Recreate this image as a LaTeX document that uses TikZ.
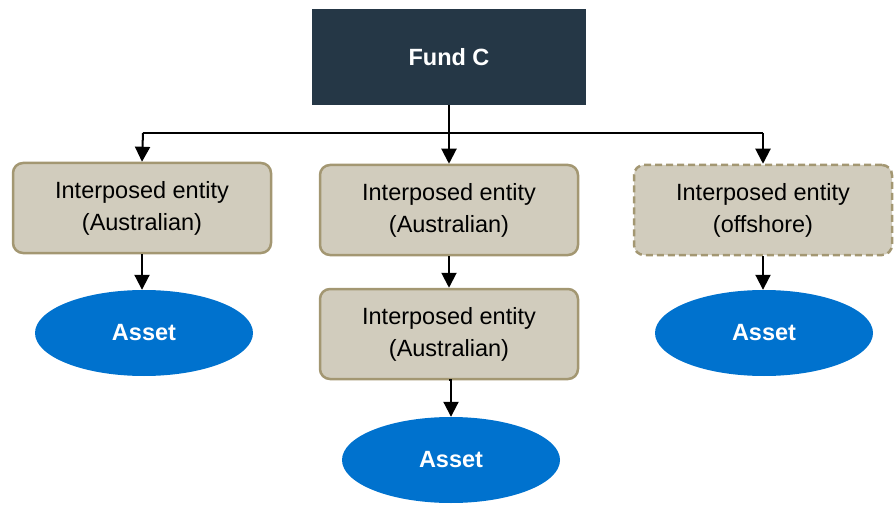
\documentclass[tikz,border=0pt]{standalone}
\usepackage{fontspec}
\setmainfont{Liberation Sans}
\usetikzlibrary{shapes.geometric,arrows.meta}
\definecolor{navy}{HTML}{253746}
\definecolor{boxfill}{HTML}{D1CCBD}
\definecolor{boxline}{HTML}{A39772}
\definecolor{assetblue}{HTML}{0072CE}
\begin{document}
\begin{tikzpicture}[x=1pt,y=-1pt,
  fund/.style={draw=none,fill=navy,text=white,minimum width=274pt,minimum height=96pt,inner sep=0pt,font=\fontsize{23.5}{28}\selectfont\bfseries},
  entity/.style={draw=boxline,line width=2.5pt,fill=boxfill,rounded corners=10pt,minimum width=258pt,minimum height=90pt,inner sep=0pt,align=center,font=\fontsize{23.5}{32}\selectfont},
  offshore/.style={entity,dashed,dash pattern=on 7pt off 4pt},
  asset/.style={ellipse,draw=none,fill=assetblue,text=white,minimum width=218pt,minimum height=86pt,inner sep=0pt,font=\fontsize{23.5}{28}\selectfont\bfseries},
  conn/.style={line width=2pt,-{Triangle[length=15pt,width=15pt]}},
  plain/.style={line width=2pt}]
\useasboundingbox (0,0) rectangle (894,505);
\node[fund] (fund) at (449,57) {Fund C};
\node[entity] (e1) at (142,208) {Interposed entity\\(Australian)};
\node[entity] (e2) at (449,210) {Interposed entity\\(Australian)};
\node[offshore] (e3) at (763,210) {Interposed entity\\(offshore)};
\node[entity] (e4) at (449,334) {Interposed entity\\(Australian)};
\node[asset] (a1) at (144,333) {Asset};
\node[asset] (a2) at (451,460) {Asset};
\node[asset] (a3) at (764,333) {Asset};
\coordinate (j) at (449,133);
\coordinate (jl) at (143,133);
\coordinate (jr) at (763,133);
\draw[plain] (fund.south) -- (j);
\draw[plain] (jl) -- (jr);
\draw[conn] (jl) -- (e1.north);
\draw[conn] (j) -- (e2.north);
\draw[conn] (jr) -- (e3.north);
\draw[conn] (e1.south) -- (e1.south |- a1.north);
\draw[conn] (e2.south) -- (e4.north);
\draw[conn] (e3.south) -- (e3.south |- a3.north);
\draw[conn] (e4.south) -- (e4.south -| a2.north) -- (a2.north);
\end{tikzpicture}
\end{document}
